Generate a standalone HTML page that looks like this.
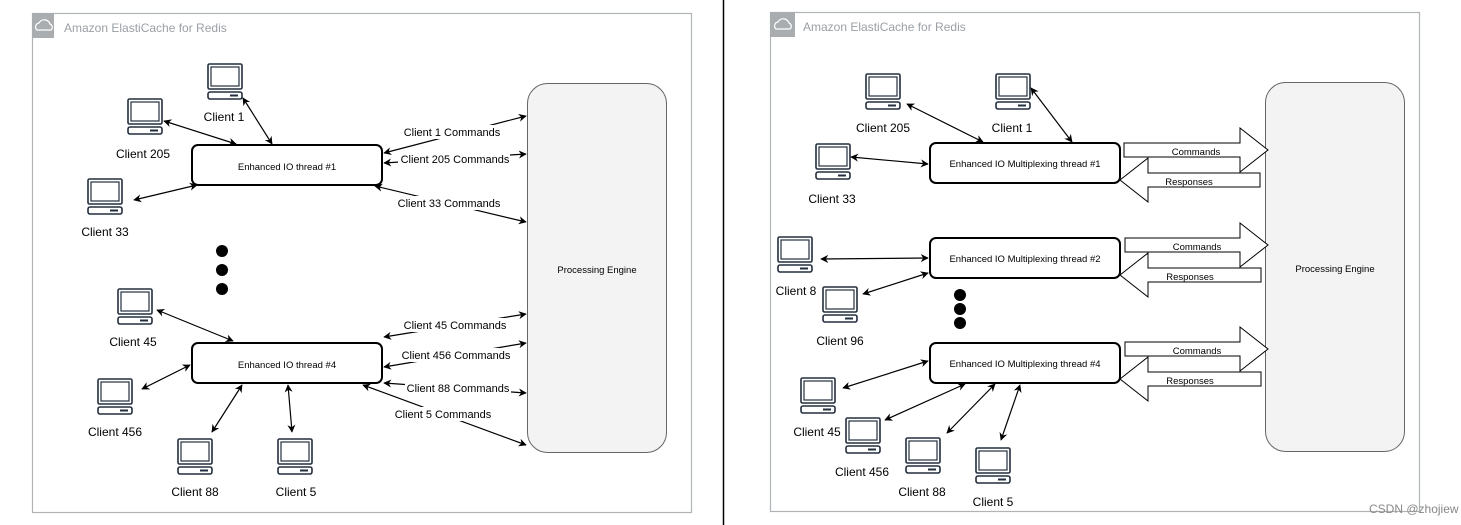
<!DOCTYPE html>
<html><head><meta charset="utf-8"><style>
html,body{margin:0;padding:0;background:#fff;width:1461px;height:525px;overflow:hidden}
svg{display:block}
text{font-family:"Liberation Sans",Arial,sans-serif;fill:#000}
</style></head><body>
<svg width="1461" height="525" viewBox="0 0 1461 525" xmlns="http://www.w3.org/2000/svg">
<defs>
<marker id="a" viewBox="0 0 10 10" refX="9" refY="5" markerWidth="8" markerHeight="8" orient="auto-start-reverse" markerUnits="userSpaceOnUse">
<path d="M0,0 L10,5 L0,10 L3,5 z" fill="#000"/></marker>
<g id="pc" fill="none" stroke="#232f3e" stroke-width="1.6">
<rect x="1" y="1" width="34" height="25" rx="1.5"/>
<rect x="4" y="4" width="28" height="19" stroke-width="1.2"/>
<rect x="1" y="29" width="34" height="7" rx="2"/>
<rect x="23" y="31.5" width="8" height="2" fill="#232f3e" stroke="none"/>
</g>
<g id="cloud">
<path d="M5,15 a4,4 0 0 1 2,-7 a6,6 0 0 1 11,1 a3.5,3.5 0 0 1 1,6 z" fill="none" stroke="#fff" stroke-width="1.2"/>
</g>
</defs>

<!-- divider -->
<line x1="723.5" y1="0" x2="723.5" y2="525" stroke="#000" stroke-width="1.5"/>

<!-- LEFT PANEL -->
<rect x="32.5" y="13.5" width="659" height="499" fill="none" stroke="#b0b4b8" stroke-width="1.2"/>
<rect x="32" y="13" width="22" height="25" fill="#a9adb0"/>
<use href="#cloud" x="32" y="15"/>
<text x="64" y="32" font-size="12" style="fill:#9aa0a6">Amazon ElastiCache for Redis</text>

<rect x="527.5" y="83.5" width="139" height="369" rx="20" fill="#f3f3f3" stroke="#666" stroke-width="1"/>
<text x="597" y="273" font-size="9.5" text-anchor="middle">Processing Engine</text>

<rect x="192" y="145" width="190" height="40" rx="6" fill="#fff" stroke="#000" stroke-width="2"/>
<text x="287" y="170" font-size="9.5" text-anchor="middle">Enhanced IO thread #1</text>
<rect x="192" y="343" width="190" height="40" rx="6" fill="#fff" stroke="#000" stroke-width="2"/>
<text x="287" y="368" font-size="9.5" text-anchor="middle">Enhanced IO thread #4</text>

<use href="#pc" x="207" y="63"/><text x="224" y="121" font-size="12" text-anchor="middle">Client 1</text>
<use href="#pc" x="127" y="98"/><text x="143" y="158" font-size="12" text-anchor="middle">Client 205</text>
<use href="#pc" x="87" y="178"/><text x="105" y="236" font-size="12" text-anchor="middle">Client 33</text>
<use href="#pc" x="117" y="288"/><text x="133" y="346" font-size="12" text-anchor="middle">Client 45</text>
<use href="#pc" x="97" y="378"/><text x="115" y="436" font-size="12" text-anchor="middle">Client 456</text>
<use href="#pc" x="177" y="438"/><text x="195" y="496" font-size="12" text-anchor="middle">Client 88</text>
<use href="#pc" x="277" y="438"/><text x="296" y="496" font-size="12" text-anchor="middle">Client 5</text>

<circle cx="222" cy="251" r="6"/><circle cx="222" cy="270" r="6"/><circle cx="222" cy="289" r="6"/>

<g stroke="#000" stroke-width="1.2" fill="none" marker-start="url(#a)" marker-end="url(#a)">
<line x1="243" y1="98" x2="272" y2="144"/>
<line x1="164" y1="121" x2="236" y2="144"/>
<line x1="134" y1="200" x2="197" y2="185"/>
<line x1="157" y1="310" x2="233" y2="341"/>
<line x1="142" y1="389" x2="190" y2="365"/>
<line x1="212" y1="432" x2="242" y2="385"/>
<line x1="288" y1="385" x2="292" y2="432"/>
<line x1="384" y1="153" x2="526" y2="116"/>
<line x1="384" y1="163" x2="526" y2="154"/>
<line x1="375" y1="186" x2="526" y2="222"/>
<line x1="384" y1="337" x2="526" y2="314"/>
<line x1="384" y1="367" x2="526" y2="343"/>
<line x1="384" y1="383" x2="526" y2="393"/>
<line x1="363" y1="385" x2="526" y2="445"/>
</g>
<g font-size="11" text-anchor="middle">
<rect x="403" y="125" width="100" height="14" fill="#fff"/><text x="452" y="136">Client 1 Commands</text>
<rect x="398" y="152" width="112" height="14" fill="#fff"/><text x="455" y="163">Client 205 Commands</text>
<rect x="396" y="196" width="106" height="14" fill="#fff"/><text x="449" y="207">Client 33 Commands</text>
<rect x="403" y="318" width="106" height="14" fill="#fff"/><text x="455" y="329">Client 45 Commands</text>
<rect x="400" y="348" width="112" height="14" fill="#fff"/><text x="456" y="359">Client 456 Commands</text>
<rect x="405" y="381" width="106" height="14" fill="#fff"/><text x="458" y="392">Client 88 Commands</text>
<rect x="394" y="407" width="100" height="14" fill="#fff"/><text x="443" y="418">Client 5 Commands</text>
</g>

<!-- RIGHT PANEL -->
<rect x="770.5" y="12.5" width="649" height="499" fill="none" stroke="#b0b4b8" stroke-width="1.2"/>
<rect x="770" y="12" width="25" height="25" fill="#a9adb0"/>
<use href="#cloud" x="771" y="14"/>
<text x="803" y="31" font-size="12" style="fill:#9aa0a6">Amazon ElastiCache for Redis</text>

<rect x="1265.5" y="82.5" width="139" height="369" rx="20" fill="#f3f3f3" stroke="#666" stroke-width="1"/>
<text x="1335" y="272" font-size="9.5" text-anchor="middle">Processing Engine</text>

<g fill="#fff" stroke="#000" stroke-width="2">
<rect x="930" y="143" width="190" height="40" rx="6"/>
<rect x="930" y="238" width="190" height="40" rx="6"/>
<rect x="930" y="343" width="190" height="40" rx="6"/>
</g>
<g font-size="9.5" text-anchor="middle">
<text x="1025" y="167">Enhanced IO Multiplexing thread #1</text>
<text x="1025" y="262">Enhanced IO Multiplexing thread #2</text>
<text x="1025" y="367">Enhanced IO Multiplexing thread #4</text>
</g>

<!-- big arrows -->
<g fill="#fff" stroke="#000" stroke-width="1">
<path d="M1124,143 H1240 V128 L1268,150 L1240,172 V157 H1124 Z"/>
<path d="M1260,173 H1148 V158 L1120,180 L1148,202 V187 H1260 Z"/>
<path d="M1125,238 H1240 V223 L1268,245 L1240,267 V252 H1125 Z"/>
<path d="M1261,268 H1148 V253 L1120,275 L1148,297 V282 H1261 Z"/>
<path d="M1125,342 H1240 V327 L1268,349 L1240,371 V356 H1125 Z"/>
<path d="M1261,372 H1148 V357 L1120,379 L1148,401 V386 H1261 Z"/>
</g>
<g font-size="9.5" text-anchor="middle">
<text x="1196" y="155">Commands</text><text x="1189" y="185">Responses</text>
<text x="1197" y="250">Commands</text><text x="1190" y="280">Responses</text>
<text x="1197" y="354">Commands</text><text x="1190" y="384">Responses</text>
</g>

<use href="#pc" x="865" y="73"/><text x="883" y="132" font-size="12" text-anchor="middle">Client 205</text>
<use href="#pc" x="995" y="73"/><text x="1012" y="132" font-size="12" text-anchor="middle">Client 1</text>
<use href="#pc" x="815" y="143"/><text x="832" y="203" font-size="12" text-anchor="middle">Client 33</text>
<use href="#pc" x="777" y="236"/><text x="796" y="295" font-size="12" text-anchor="middle">Client 8</text>
<use href="#pc" x="822" y="286"/><text x="840" y="345" font-size="12" text-anchor="middle">Client 96</text>
<use href="#pc" x="800" y="377"/><text x="817" y="436" font-size="12" text-anchor="middle">Client 45</text>
<use href="#pc" x="845" y="417"/><text x="862" y="476" font-size="12" text-anchor="middle">Client 456</text>
<use href="#pc" x="905" y="437"/><text x="922" y="496" font-size="12" text-anchor="middle">Client 88</text>
<use href="#pc" x="975" y="447"/><text x="993" y="506" font-size="12" text-anchor="middle">Client 5</text>

<circle cx="960" cy="295" r="6"/><circle cx="960" cy="309" r="6"/><circle cx="960" cy="323" r="6"/>

<g stroke="#000" stroke-width="1.2" fill="none" marker-start="url(#a)" marker-end="url(#a)">
<line x1="907" y1="104" x2="983" y2="142"/>
<line x1="1031" y1="88" x2="1072" y2="142"/>
<line x1="851" y1="157" x2="928" y2="164"/>
<line x1="821" y1="259" x2="928" y2="258"/>
<line x1="863" y1="294" x2="928" y2="273"/>
<line x1="843" y1="388" x2="928" y2="361"/>
<line x1="885" y1="420" x2="965" y2="384"/>
<line x1="947" y1="433" x2="995" y2="384"/>
<line x1="1001" y1="440" x2="1020" y2="385"/>
</g>

<text x="1369" y="513" font-size="12" style="fill:#888">CSDN @zhojiew</text>
</svg>
</body></html>
